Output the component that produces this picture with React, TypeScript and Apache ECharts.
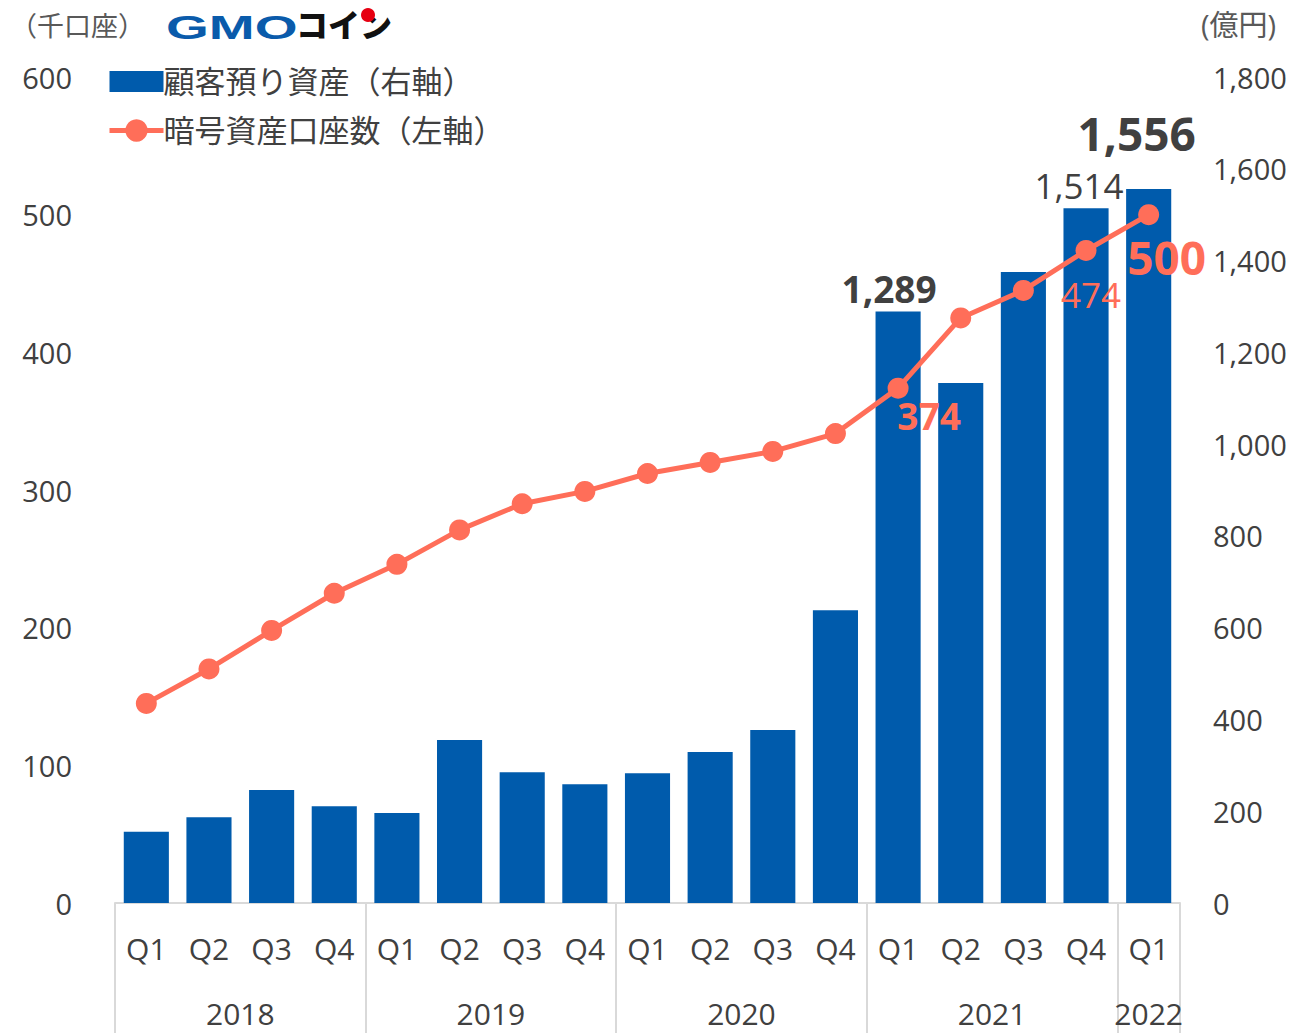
import React, { useEffect, useRef } from "react";
import * as echarts from "echarts";

const quarters = ["Q1","Q2","Q3","Q4","Q1","Q2","Q3","Q4","Q1","Q2","Q3","Q4","Q1","Q2","Q3","Q4","Q1"];
const years = ["2018", "2019", "2020", "2021", "2022"];
const yearSlots = [4, 12, 20, 28, 33];
const deposits = [155, 187, 246, 211, 196, 355, 285, 259, 283, 329, 377, 638, 1289, 1133, 1375, 1514, 1556];
const accounts = [145, 170, 198, 225, 246, 271, 290, 299, 312, 320, 328, 341, 374, 425, 445, 474, 500];
const leftTicks = { min: 0, max: 600, interval: 100 };
const rightTicks = { min: 0, max: 1800, interval: 200 };
const barName = "顧客預り資産（右軸）";
const lineName = "暗号資産口座数（左軸）";

const BLUE = "#005bac";
const ORANGE = "#ff6e59";
const TEXT = "#404040";
const FONT = "'Open Sans', 'Noto Sans CJK JP', sans-serif";

export default function App() {
  const ref = useRef<HTMLDivElement>(null);
  useEffect(() => {
    if (!ref.current) return;
    const chart = echarts.init(ref.current, null, { renderer: "svg" });

    const yearData: string[] = new Array(35).fill("");
    yearSlots.forEach((s, i) => (yearData[s] = years[i]));

    const fmt = (p: any) => p.value.toLocaleString("en-US");
    const barLabels: Record<number, any> = {
      12: { show: true, position: "top", offset: [-9, 0], fontSize: 37, fontWeight: "bold", color: TEXT, formatter: fmt },
      15: { show: true, position: "top", offset: [-7, 0], fontSize: 35, color: TEXT, formatter: fmt },
      16: { show: true, position: "top", offset: [-12, -28], fontSize: 46, fontWeight: "bold", color: TEXT, formatter: fmt },
    };
    const lineLabels: Record<number, any> = {
      12: { show: true, position: "inside", offset: [31, 27], fontSize: 37, fontWeight: "bold", color: ORANGE },
      15: { show: true, position: "inside", offset: [5, 44], fontSize: 35, color: ORANGE },
      16: { show: true, position: "inside", offset: [18, 42], fontSize: 46, fontWeight: "bold", color: ORANGE },
    };

    chart.setOption({
      animation: false,
      textStyle: { fontFamily: FONT },
      grid: { left: 115, right: 111, top: 77, bottom: 130, containLabel: false },
      legend: {
        orient: "vertical",
        left: 107,
        top: 66,
        padding: 0,
        itemWidth: 54,
        itemHeight: 28,
        itemGap: 18,
        textStyle: { fontSize: 31, color: TEXT, fontFamily: FONT, padding: [0, 0, 0, -5] },
        data: [
          { name: barName, icon: "path://M0 0H54V21H0Z" },
          { name: lineName, lineStyle: { width: 5 } },
        ],
      },
      graphic: [
        { type: "text", left: 10, top: 12, style: { text: "（千口座）", fontSize: 27, fill: "#595959", fontFamily: FONT } },
        { type: "text", x: 1201, y: 10, style: { text: "(億円)", fontSize: 29, fill: "#595959", fontFamily: FONT } },
        { type: "text", x: 166, y: 10, scaleX: 1.62, style: { text: "GMO", fontSize: 34, fontWeight: "bold", fill: "#0a5bab", fontFamily: "'Liberation Sans', sans-serif" } },
        { type: "text", x: 296, y: 7, style: { text: "コイン", fontSize: 32, fontWeight: 900, fill: "#111", fontFamily: "'Noto Sans CJK JP', sans-serif" } },
        { type: "circle", shape: { cx: 368, cy: 15, r: 7 }, style: { fill: "#e60012" } },
      ],
      xAxis: [
        {
          type: "category",
          data: quarters,
          position: "bottom",
          axisLine: { show: true, lineStyle: { color: "#d9d9d9", width: 2 } },
          axisTick: {
            show: true,
            length: 135,
            interval: (i: number) => i % 4 === 0 || i === quarters.length - 1,
            lineStyle: { color: "#d9d9d9", width: 2 },
          },
          axisLabel: { interval: 0, fontSize: 30, color: TEXT, margin: 30, fontFamily: FONT },
        },
        {
          type: "category",
          data: yearData,
          boundaryGap: false,
          position: "bottom",
          axisLine: { show: false },
          axisTick: { show: false },
          axisLabel: { interval: 0, fontSize: 30, lineHeight: 30, color: TEXT, margin: 95, fontFamily: FONT },
        },
      ],
      yAxis: [
        {
          type: "value",
          position: "left",
          ...leftTicks,
          splitLine: { show: false },
          axisLine: { show: false },
          axisTick: { show: false },
          axisLabel: { fontSize: 29, color: TEXT, margin: 43, fontFamily: FONT },
        },
        {
          type: "value",
          position: "right",
          ...rightTicks,
          splitLine: { show: false },
          axisLine: { show: false },
          axisTick: { show: false },
          axisLabel: {
            fontSize: 29, color: TEXT, margin: 33, fontFamily: FONT,
            formatter: (v: number) => v.toLocaleString("en-US"),
          },
        },
      ],
      series: [
        {
          name: barName,
          type: "bar",
          xAxisIndex: 0,
          yAxisIndex: 1,
          barCategoryGap: "28%",
          itemStyle: { color: BLUE },
          data: deposits.map((v, i) => (barLabels[i] ? { value: v, label: barLabels[i] } : v)),
        },
        {
          name: lineName,
          type: "line",
          xAxisIndex: 0,
          yAxisIndex: 0,
          symbol: "circle",
          symbolSize: 21,
          itemStyle: { color: ORANGE },
          lineStyle: { color: ORANGE, width: 5 },
          z: 5,
          data: accounts.map((v, i) => (lineLabels[i] ? { value: v, label: lineLabels[i] } : v)),
        },
      ],
    });
    return () => chart.dispose();
  }, []);
  return <div ref={ref} style={{ position: "fixed", left: 0, top: 0, width: 1291, height: 1033, background: "#fff" }} />;
}
